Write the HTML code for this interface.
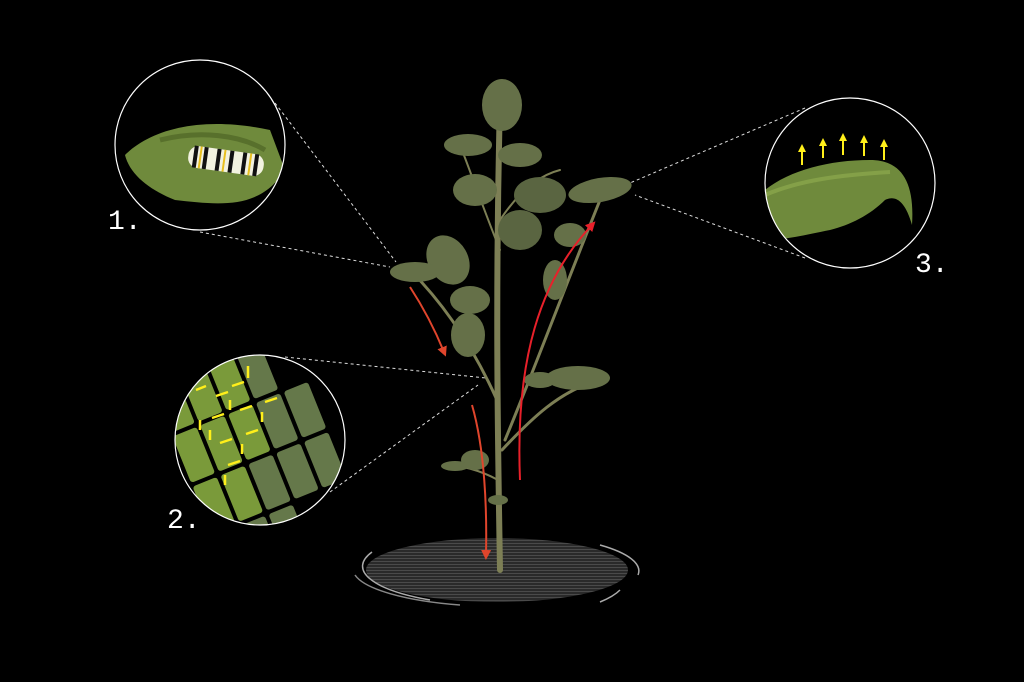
<!DOCTYPE html>
<html><head><meta charset="utf-8"><style>
html,body{margin:0;padding:0;background:#000;}
svg{display:block;}
text{font-family:"Liberation Mono",monospace;fill:#fff;font-size:28px;}
</style></head><body>
<svg width="1024" height="682" viewBox="0 0 1024 682" xmlns="http://www.w3.org/2000/svg">
<defs>
<pattern id="stripe" width="4" height="3" patternUnits="userSpaceOnUse">
<rect width="4" height="3" fill="#2a2a2a"/><rect width="4" height="1" fill="#4a4a4a"/>
</pattern>
<clipPath id="c1"><circle cx="200" cy="145" r="85"/></clipPath>
<clipPath id="c2"><circle cx="260" cy="440" r="85"/></clipPath>
<clipPath id="c3"><circle cx="850" cy="183" r="85"/></clipPath>
<marker id="ar" viewBox="0 0 10 10" refX="5" refY="5" markerWidth="5" markerHeight="5" orient="auto"><path d="M0,0L10,5L0,10z" fill="#e0452c"/></marker>
<marker id="ar2" viewBox="0 0 10 10" refX="5" refY="5" markerWidth="5" markerHeight="5" orient="auto"><path d="M0,0L10,5L0,10z" fill="#e8202a"/></marker>
<marker id="ya" viewBox="0 0 10 10" refX="5" refY="5" markerWidth="4" markerHeight="4" orient="auto"><path d="M0,0L10,5L0,10z" fill="#ffef1a"/></marker>
</defs>

<!-- ground -->
<ellipse cx="497" cy="570" rx="131" ry="32" fill="url(#stripe)"/>
<path d="M372,552 A145,40 0 0 0 430,600" stroke="#aaa" stroke-width="1.5" fill="none"/>
<path d="M355,575 A150,38 0 0 0 460,605" stroke="#888" stroke-width="1.5" fill="none"/>
<path d="M600,545 A145,38 0 0 1 638,575" stroke="#aaa" stroke-width="1.5" fill="none"/>
<path d="M620,590 A145,40 0 0 1 600,602" stroke="#aaa" stroke-width="1.5" fill="none"/>

<!-- dashed lines -->
<g stroke="#ddd" stroke-width="1" stroke-dasharray="3,3" fill="none">
<line x1="275" y1="103" x2="396" y2="262"/>
<line x1="200" y1="232" x2="390" y2="267"/>
<line x1="285" y1="357" x2="486" y2="378"/>
<line x1="330" y1="492" x2="478" y2="385"/>
<line x1="805" y1="108" x2="630" y2="183"/>
<line x1="805" y1="258" x2="635" y2="195"/>
</g>

<!-- plant stems -->
<g stroke="#7d7f55" fill="none" stroke-linecap="round">
<path d="M500,570 C498,450 495,300 500,100" stroke-width="6"/>
<path d="M497,400 C470,340 440,300 410,270" stroke-width="3"/>
<path d="M505,440 C530,380 560,300 600,200" stroke-width="3"/>
<path d="M502,450 C530,420 560,390 600,380" stroke-width="3"/>
<path d="M498,480 C480,470 460,465 445,465" stroke-width="2"/>
<path d="M500,250 C480,200 470,170 460,145" stroke-width="2"/>
<path d="M500,220 C520,190 540,175 560,170" stroke-width="2"/>
</g>
<!-- leaves -->
<g fill="#657048">
<ellipse cx="502" cy="105" rx="20" ry="26"/>
<ellipse cx="468" cy="145" rx="24" ry="11"/>
<ellipse cx="520" cy="155" rx="22" ry="12"/>
<ellipse cx="475" cy="190" rx="22" ry="16"/>
<ellipse cx="540" cy="195" rx="26" ry="18" fill="#5a6541"/>
<ellipse cx="520" cy="230" rx="22" ry="20" fill="#5a6541"/>
<ellipse cx="600" cy="190" rx="32" ry="12" transform="rotate(-10 600 190)"/>
<ellipse cx="570" cy="235" rx="16" ry="12"/>
<ellipse cx="448" cy="260" rx="20" ry="26" transform="rotate(-30 448 260)"/>
<ellipse cx="415" cy="272" rx="25" ry="10"/>
<ellipse cx="470" cy="300" rx="20" ry="14"/>
<ellipse cx="468" cy="335" rx="17" ry="22"/>
<ellipse cx="555" cy="280" rx="12" ry="20"/>
<ellipse cx="578" cy="378" rx="32" ry="12"/>
<ellipse cx="540" cy="380" rx="16" ry="8"/>
<ellipse cx="475" cy="460" rx="14" ry="10"/>
<ellipse cx="455" cy="466" rx="14" ry="5"/>
<ellipse cx="498" cy="500" rx="10" ry="5"/>
</g>

<!-- red arrows -->
<path d="M410,287 C425,310 435,330 444,352" stroke="#e0452c" stroke-width="2" fill="none" marker-end="url(#ar)"/>
<path d="M472,405 C485,450 487,510 486,555" stroke="#e0452c" stroke-width="2" fill="none" marker-end="url(#ar)"/>
<path d="M520,480 C515,360 540,280 592,225" stroke="#e8202a" stroke-width="2" fill="none" marker-end="url(#ar2)"/>

<!-- circle 1 -->
<g clip-path="url(#c1)">
<path d="M125,155 C150,130 200,115 270,130 L285,170 C260,210 220,205 175,200 C150,190 130,175 125,155z" fill="#6f8a3c"/>
<path d="M160,140 C200,130 240,135 265,150" stroke="#58702c" stroke-width="5" fill="none"/>
<g>
<rect x="188" y="150" width="76" height="22" rx="10" fill="#f2f2e0" transform="rotate(8 226 161)"/>
<g stroke="#111" stroke-width="4" transform="rotate(8 226 161)">
<line x1="195" y1="150" x2="195" y2="172"/><line x1="205" y1="150" x2="205" y2="172"/><line x1="218" y1="150" x2="218" y2="172"/><line x1="231" y1="150" x2="231" y2="172"/><line x1="244" y1="150" x2="244" y2="172"/><line x1="256" y1="150" x2="256" y2="172"/>
</g>
<g stroke="#e8c020" stroke-width="2" transform="rotate(8 226 161)">
<line x1="200" y1="150" x2="200" y2="172"/><line x1="224" y1="150" x2="224" y2="172"/><line x1="250" y1="150" x2="250" y2="172"/>
</g>
</g>
</g>
<circle cx="200" cy="145" r="85" fill="none" stroke="#fff" stroke-width="1.2"/>

<!-- circle 2 -->
<g clip-path="url(#c2)">
<rect x="160" y="340" width="200" height="200" fill="#000"/>
<g transform="rotate(-22 260 440)">
<g fill="#7a9a3a">
<rect x="180" y="350" width="26" height="50" rx="3"/><rect x="210" y="350" width="26" height="50" rx="3"/><rect x="240" y="350" width="26" height="50" rx="3"/>
<rect x="180" y="404" width="26" height="50" rx="3"/><rect x="210" y="404" width="26" height="50" rx="3"/><rect x="240" y="404" width="26" height="50" rx="3"/>
<rect x="180" y="458" width="26" height="50" rx="3"/><rect x="210" y="458" width="26" height="50" rx="3"/>
</g>
<g fill="#65784a">
<rect x="270" y="350" width="26" height="50" rx="3"/><rect x="270" y="404" width="26" height="50" rx="3"/><rect x="240" y="458" width="26" height="50" rx="3"/><rect x="270" y="458" width="26" height="50" rx="3"/><rect x="300" y="404" width="26" height="50" rx="3"/><rect x="300" y="458" width="26" height="50" rx="3"/><rect x="210" y="512" width="26" height="50" rx="3"/><rect x="240" y="512" width="26" height="50" rx="3"/>
</g>
</g>
<g stroke="#ffef1a" stroke-width="2.5">
<line x1="196" y1="390" x2="206" y2="386"/><line x1="216" y1="396" x2="228" y2="392"/><line x1="232" y1="386" x2="244" y2="382"/><line x1="248" y1="366" x2="248" y2="378"/>
<line x1="212" y1="418" x2="224" y2="414"/><line x1="230" y1="400" x2="230" y2="410"/><line x1="240" y1="410" x2="252" y2="406"/><line x1="265" y1="402" x2="277" y2="398"/>
<line x1="210" y1="430" x2="210" y2="440"/><line x1="220" y1="443" x2="232" y2="439"/><line x1="246" y1="434" x2="258" y2="430"/><line x1="262" y1="412" x2="262" y2="422"/>
<line x1="228" y1="465" x2="240" y2="461"/><line x1="242" y1="444" x2="242" y2="454"/><line x1="225" y1="475" x2="225" y2="485"/><line x1="200" y1="420" x2="200" y2="430"/>
</g>
</g>
<circle cx="260" cy="440" r="85" fill="none" stroke="#fff" stroke-width="1.2"/>

<!-- circle 3 -->
<g clip-path="url(#c3)">
<path d="M765,190 C790,170 830,160 870,160 C900,160 915,180 912,225 C905,200 895,195 885,200 C870,215 850,225 830,230 C805,235 785,240 765,240z" fill="#6f8a3c"/>
<path d="M765,195 C800,180 840,175 890,172" stroke="#84a048" stroke-width="4" fill="none"/>
<g stroke="#ffef1a" stroke-width="2" marker-end="url(#ya)">
<line x1="802" y1="165" x2="802" y2="148"/>
<line x1="823" y1="158" x2="823" y2="142"/>
<line x1="843" y1="155" x2="843" y2="137"/>
<line x1="864" y1="156" x2="864" y2="139"/>
<line x1="884" y1="160" x2="884" y2="143"/>
</g>
</g>
<circle cx="850" cy="183" r="85" fill="none" stroke="#fff" stroke-width="1.2"/>

<text x="108" y="229">1.</text>
<text x="167" y="528">2.</text>
<text x="915" y="272">3.</text>
</svg>
</body></html>
